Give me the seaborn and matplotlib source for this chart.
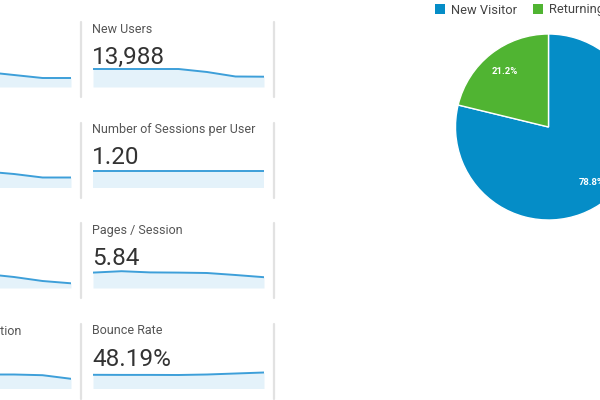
import matplotlib
matplotlib.use("Agg")
import matplotlib.pyplot as plt
from matplotlib.patches import Patch
from matplotlib.lines import Line2D
import seaborn as sns

# ---------------- data ----------------
weeks = [1, 2, 3, 4, 5, 6, 7]

# left column (cropped in the reference)
users_trend = [2100, 2100, 2075, 2050, 1900, 1750, 1750]
sessions_trend = [2360, 2360, 2360, 2360, 2210, 2000, 2000]
pageviews_trend = [13000, 13000, 13100, 13000, 11500, 9500, 8350]
duration_trend = [170, 170, 170, 170, 170, 166.5, 148.5]

# right column
new_users_trend = [2100, 2100, 2100, 2100, 1950, 1725, 1715]
sessions_per_user_trend = [1.20, 1.20, 1.20, 1.20, 1.20, 1.20, 1.20]
pages_per_session_trend = [5.87, 5.94, 5.88, 5.87, 5.85, 5.75, 5.64]
bounce_rate_trend = [48.05, 48.0, 48.0, 47.95, 48.2, 48.7, 49.2]

left_titles = ["Users", "Sessions", "Pageviews", "Avg. Session Duration"]
right_titles = ["New Users", "Number of Sessions per User", "Pages / Session", "Bounce Rate"]
right_values = ["13,988", "1.20", "5.84", "48.19%"]

visitor_types = ["New Visitor", "Returning Visitor"]
visitor_share = [78.8, 21.2]

# ---------------- style ----------------
sns.set_theme(style="white")
plt.rcParams["font.family"] = ["Roboto", "DejaVu Sans"]

W, H = 600, 400
fig = plt.figure(figsize=(6, 4), dpi=100)
fig.patch.set_facecolor("white")

line_c = "#3d9fd9"
fill_c = "#e4f2fa"
title_c = "#555555"
value_c = "#333333"
div_c = "#e2e2e2"
pie_colors = ["#058DC7", "#50B432"]

left_series = [users_trend, sessions_trend, pageviews_trend, duration_trend]
right_series = [new_users_trend, sessions_per_user_trend, pages_per_session_trend, bounce_rate_trend]
left_ylims = [(1300, 2300), (1400, 2600), (6000, 16000), (100, 200)]
right_ylims = [(1200, 2200), (1.03, 1.23), (5.1, 6.1), (41.2, 51.2)]

row_step = 100.5
card_step = 193
x0_right = 93
spark_w = 171
spark_h = 20


def fx(px):
    return px / W


def fy(py):
    return 1 - py / H


def spark(xpx, bottom_px, vals, ylim):
    ax = fig.add_axes([fx(xpx), fy(bottom_px), spark_w / W, spark_h / H])
    sns.lineplot(x=weeks, y=vals, ax=ax, color=line_c, linewidth=1.4)
    ax.fill_between(weeks, vals, ylim[0], color=fill_c, linewidth=0)
    ax.set_xlim(weeks[0], weeks[-1])
    ax.set_ylim(*ylim)
    ax.axis("off")
    return ax


for r in range(4):
    off = r * row_step
    bottom = 87 + off
    # right column card
    spark(x0_right, bottom, right_series[r], right_ylims[r])
    fig.text(fx(92), fy(33 + off), right_titles[r], fontsize=9.0, color=title_c, va="baseline")
    fig.text(fx(92), fy(64 + off), right_values[r], fontsize=17.5, color=value_c, va="baseline")
    # left column card (mostly outside the crop)
    spark(x0_right - card_step, bottom, left_series[r], left_ylims[r])
    if r == 3:
        fig.text(fx(92 - card_step), fy(33 + off), left_titles[r], fontsize=9.0,
                 color=title_c, va="baseline")
    # dividers
    for xd in (81, 274):
        fig.add_artist(Line2D([fx(xd), fx(xd)], [fy(22 + off), fy(97 + off)],
                              color=div_c, linewidth=1.6))

# ---------------- pie ----------------
cx, cy, rad = 548.5, 127, 93
axp = fig.add_axes([fx(cx - rad), fy(cy + rad), 2 * rad / W, 2 * rad / H])
wedges, texts, autotexts = axp.pie(
    visitor_share, colors=pie_colors, startangle=90, counterclock=False,
    autopct="%.1f%%", pctdistance=0.76,
    wedgeprops=dict(edgecolor="white", linewidth=1),
    textprops=dict(color="white", fontsize=6.8, fontweight="bold"))
axp.set_xlim(-1, 1)
axp.set_ylim(-1, 1)
axp.set_aspect("equal")

handles = [Patch(facecolor=c, edgecolor="none") for c in pie_colors]
fig.legend(handles, visitor_types, loc="center left", bbox_to_anchor=(fx(435), fy(10)),
           ncol=2, frameon=False, fontsize=9.3, handlelength=0.75, handleheight=0.75,
           handletextpad=0.5, columnspacing=1.25, labelcolor="#444444", borderaxespad=0,
           borderpad=0)

fig.savefig("out.png", dpi=100, facecolor="white")
